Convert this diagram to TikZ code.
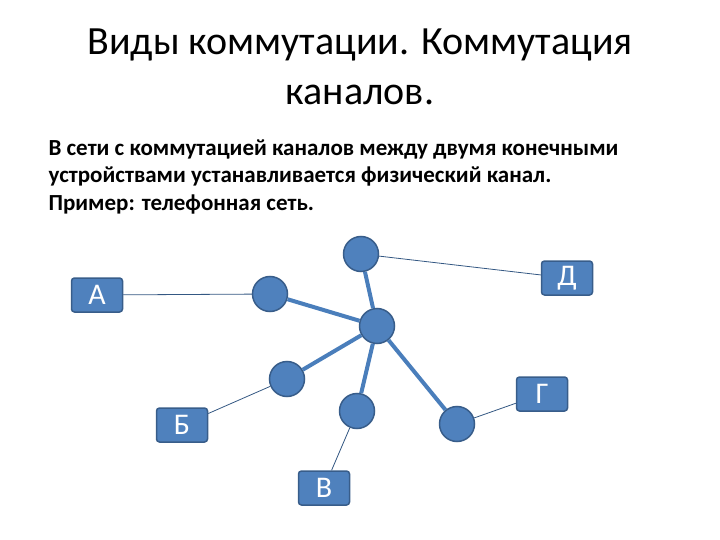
\documentclass[tikz,border=0pt]{standalone}
\usepackage{fontspec}
\setmainfont{Carlito}
\definecolor{nodeblue}{HTML}{4F81BD}
\definecolor{edgeblue}{HTML}{385D8A}
\definecolor{lineblue}{HTML}{4A7EBB}
\begin{document}
\begin{tikzpicture}[x=1pt,y=-1pt,
  hub/.style={circle,fill=nodeblue,draw=edgeblue,line width=1.5pt,minimum size=35pt,inner sep=0pt},
  term/.style={rectangle,rounded corners=3pt,fill=nodeblue,draw=edgeblue,line width=1.5pt,
    minimum width=51pt,minimum height=34pt,inner sep=0pt,text=white,font=\fontsize{30}{32}\selectfont},
  trunk/.style={lineblue,line width=4pt},
  tail/.style={lineblue!70!black,line width=0.8pt}]

\useasboundingbox (0,0) rectangle (720,540);

\node (title1) at (360,45) {\fontsize{40}{48}\selectfont Виды коммутации. Коммутация};
\node (title2) at (360,95) {\fontsize{40}{48}\selectfont каналов.};

\node[anchor=west,align=left,font=\bfseries\fontsize{23}{27.5}\selectfont] (body) at (45,177)
  {В сети с коммутацией каналов между двумя конечными\\
   устройствами устанавливается физический канал.\\
   Пример: телефонная сеть.};

\node[hub] (c0) at (377,326) {};
\node[hub] (c1) at (361,254) {};
\node[hub] (c2) at (270,294) {};
\node[hub] (c3) at (287,379) {};
\node[hub] (c4) at (357,411) {};
\node[hub] (c5) at (457,424) {};

\node[term] (a) at (97,295) {А};
\node[term] (d) at (567,278) {Д};
\node[term] (g) at (542,394) {Г};
\node[term] (b) at (182,425) {Б};
\node[term] (v) at (324,488) {В};

\draw[trunk] (c0) -- (c1);
\draw[trunk] (c0) -- (c2);
\draw[trunk] (c0) -- (c3);
\draw[trunk] (c0) -- (c4);
\draw[trunk] (c0) -- (c5);

\draw[tail] (a) -- (c2);
\draw[tail] (c1) -- (d);
\draw[tail] (c5) -- (g);
\draw[tail] (b) -- (c3);
\draw[tail] (v) -- (c4);

\end{tikzpicture}
\end{document}
